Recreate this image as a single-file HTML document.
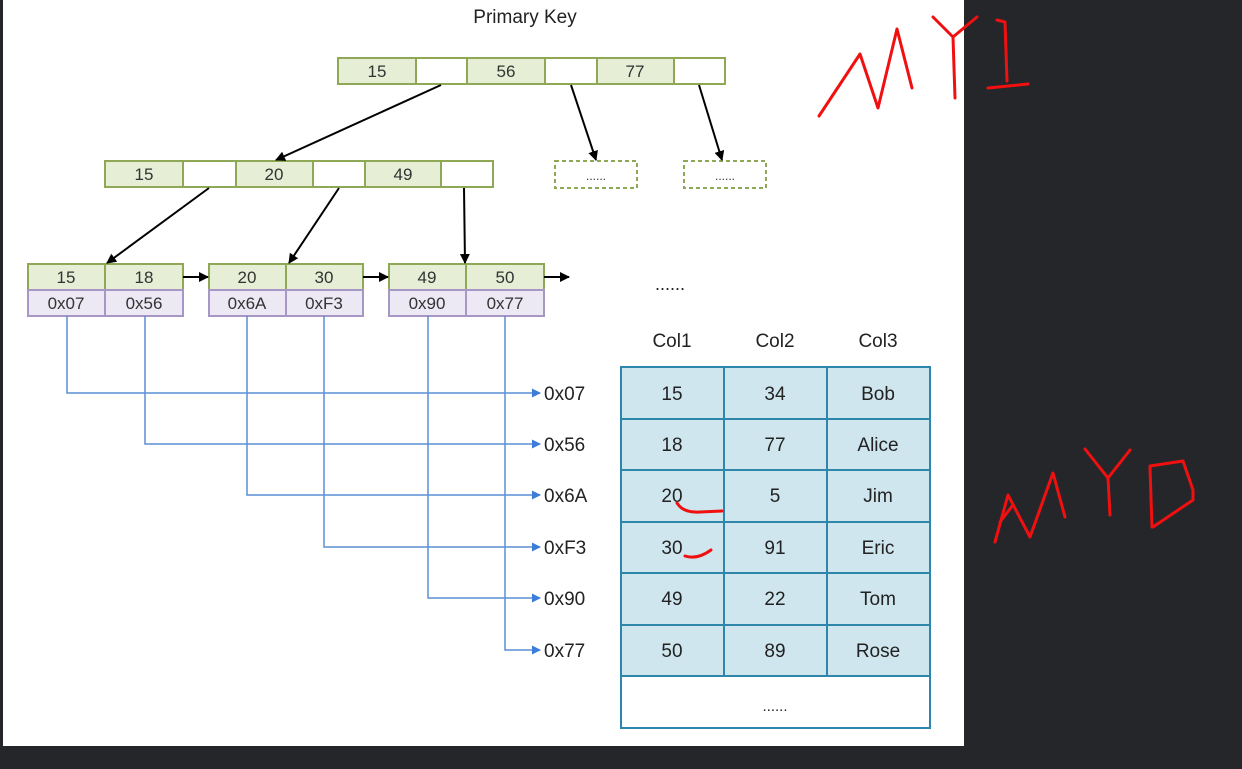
<!DOCTYPE html>
<html><head><meta charset="utf-8"><style>
html,body{margin:0;padding:0;background:#25262a;}
svg{display:block}
text{font-family:"Liberation Sans",sans-serif;}
</style></head><body>
<svg width="1242" height="769" viewBox="0 0 1242 769" xmlns="http://www.w3.org/2000/svg">
<defs>
<marker id="ab" markerWidth="10" markerHeight="10" refX="9" refY="5" orient="auto" markerUnits="userSpaceOnUse"><path d="M0,0 L10,5 L0,10 z" fill="#000"/></marker>
<marker id="abl" markerWidth="9" markerHeight="9" refX="8" refY="4.5" orient="auto" markerUnits="userSpaceOnUse"><path d="M0,0 L9,4.5 L0,9 z" fill="#3b7dd8"/></marker>
</defs>
<rect x="0" y="0" width="1242" height="769" fill="#25262a"/>
<rect x="3" y="0" width="961" height="746" fill="#fff"/>
<text x="525" y="23" font-size="19" text-anchor="middle" fill="#222">Primary Key</text>
<g stroke="#8fa856" stroke-width="2" font-size="16" fill="#333">
<rect x="338" y="58" width="78" height="26" fill="#e6eed6"/><rect x="416" y="58" width="51" height="26" fill="#fff"/>
<rect x="467" y="58" width="78" height="26" fill="#e6eed6"/><rect x="545" y="58" width="52" height="26" fill="#fff"/>
<rect x="597" y="58" width="77" height="26" fill="#e6eed6"/><rect x="674" y="58" width="51" height="26" fill="#fff"/>
<rect x="105" y="161" width="78" height="26" fill="#e6eed6"/><rect x="183" y="161" width="53" height="26" fill="#fff"/>
<rect x="236" y="161" width="77" height="26" fill="#e6eed6"/><rect x="313" y="161" width="52" height="26" fill="#fff"/>
<rect x="365" y="161" width="76" height="26" fill="#e6eed6"/><rect x="441" y="161" width="52" height="26" fill="#fff"/>
<rect x="555" y="161" width="82" height="27" fill="#fff" stroke-dasharray="4,3"/>
<rect x="684" y="161" width="82" height="27" fill="#fff" stroke-dasharray="4,3"/>
<rect x="28" y="264" width="77" height="26" fill="#e6eed6"/><rect x="105" y="264" width="78" height="26" fill="#e6eed6"/>
<rect x="209" y="264" width="77" height="26" fill="#e6eed6"/><rect x="286" y="264" width="77" height="26" fill="#e6eed6"/>
<rect x="389" y="264" width="77" height="26" fill="#e6eed6"/><rect x="466" y="264" width="78" height="26" fill="#e6eed6"/>
</g>
<g stroke="#a697c4" stroke-width="2">
<rect x="28" y="290" width="77" height="26" fill="#ece8f4"/><rect x="105" y="290" width="78" height="26" fill="#ece8f4"/>
<rect x="209" y="290" width="77" height="26" fill="#ece8f4"/><rect x="286" y="290" width="77" height="26" fill="#ece8f4"/>
<rect x="389" y="290" width="77" height="26" fill="#ece8f4"/><rect x="466" y="290" width="78" height="26" fill="#ece8f4"/>
</g>
<g font-size="17" fill="#333" text-anchor="middle">
<text x="377" y="77">15</text><text x="506" y="77">56</text><text x="635" y="77">77</text>
<text x="144" y="180">15</text><text x="274" y="180">20</text><text x="403" y="180">49</text>
<text x="596" y="180" font-size="12">......</text><text x="725" y="180" font-size="12">......</text>
<text x="66" y="283">15</text><text x="144" y="283">18</text><text x="247" y="283">20</text><text x="324" y="283">30</text><text x="427" y="283">49</text><text x="505" y="283">50</text>
<text x="66" y="309">0x07</text><text x="144" y="309">0x56</text><text x="247" y="309">0x6A</text><text x="324" y="309">0xF3</text><text x="427" y="309">0x90</text><text x="505" y="309">0x77</text>
</g>
<g stroke="#000" stroke-width="2" marker-end="url(#ab)">
<line x1="441" y1="85" x2="276" y2="160"/>
<line x1="571" y1="85" x2="596" y2="160"/>
<line x1="699" y1="85" x2="722" y2="160"/>
<line x1="209" y1="188" x2="107" y2="263"/>
<line x1="339" y1="188" x2="289" y2="263"/>
<line x1="464" y1="188" x2="465" y2="263"/>
<line x1="183" y1="277" x2="208" y2="277"/>
<line x1="363" y1="277" x2="388" y2="277"/>
<line x1="544" y1="277" x2="569" y2="277"/>
</g>
<text x="670" y="290" font-size="18" text-anchor="middle" fill="#222">......</text>
<g stroke="#5b8fd6" stroke-width="1.5" fill="none" marker-end="url(#abl)">
<path d="M67,316 V393 H540"/>
<path d="M145,316 V444 H540"/>
<path d="M247,316 V495 H540"/>
<path d="M324,316 V547 H540"/>
<path d="M428,316 V598 H540"/>
<path d="M505,316 V650 H540"/>
</g>
<g font-size="19" fill="#222">
<text x="544" y="400">0x07</text><text x="544" y="451">0x56</text><text x="544" y="502">0x6A</text>
<text x="544" y="554">0xF3</text><text x="544" y="605">0x90</text><text x="544" y="657">0x77</text>
</g>
<g font-size="19" fill="#222" text-anchor="middle">
<text x="672" y="347">Col1</text><text x="775" y="347">Col2</text><text x="878" y="347">Col3</text>
</g>
<g stroke="#2e86ab" stroke-width="2">
<rect x="621" y="367" width="309" height="309" fill="#cfe6ef"/>
<rect x="621" y="676" width="309" height="52" fill="#fff"/>
<line x1="724" y1="367" x2="724" y2="676"/><line x1="827" y1="367" x2="827" y2="676"/>
<line x1="621" y1="419" x2="930" y2="419"/><line x1="621" y1="470" x2="930" y2="470"/>
<line x1="621" y1="522" x2="930" y2="522"/><line x1="621" y1="573" x2="930" y2="573"/>
<line x1="621" y1="625" x2="930" y2="625"/>
</g>
<g font-size="19" fill="#222" text-anchor="middle">
<text x="672" y="400">15</text><text x="775" y="400">34</text><text x="878" y="400">Bob</text>
<text x="672" y="451">18</text><text x="775" y="451">77</text><text x="878" y="451">Alice</text>
<text x="672" y="502">20</text><text x="775" y="502">5</text><text x="878" y="502">Jim</text>
<text x="672" y="554">30</text><text x="775" y="554">91</text><text x="878" y="554">Eric</text>
<text x="672" y="605">49</text><text x="775" y="605">22</text><text x="878" y="605">Tom</text>
<text x="672" y="657">50</text><text x="775" y="657">89</text><text x="878" y="657">Rose</text>
<text x="775" y="711" font-size="15">......</text>
</g>
<g stroke="#f01010" stroke-width="3" fill="none" stroke-linecap="round" stroke-linejoin="round">
<path d="M677,503 Q683,513 700,512 L722,511"/>
<path d="M685,556 Q697,560 711,550"/>
<path d="M819,116 L860,54 L878,108 L897,29 L912,88"/>
<path d="M933,17 L953,37 L977,17 M953,37 L955,98"/>
<path d="M997,20 L1005,22 L1007,81 M988,88 L1028,84"/>
<path d="M995,542 L1008,495 L1030,537 L1053,473 L1065,517 M1000,522 L1013,505"/>
<path d="M1085,449 L1108,478 L1130,450 M1108,478 L1110,515"/>
<path d="M1150,468 L1152,527 M1150,466 L1183,461 L1193,490 L1193,500 L1153,527"/>
</g>
</svg>
</body></html>
